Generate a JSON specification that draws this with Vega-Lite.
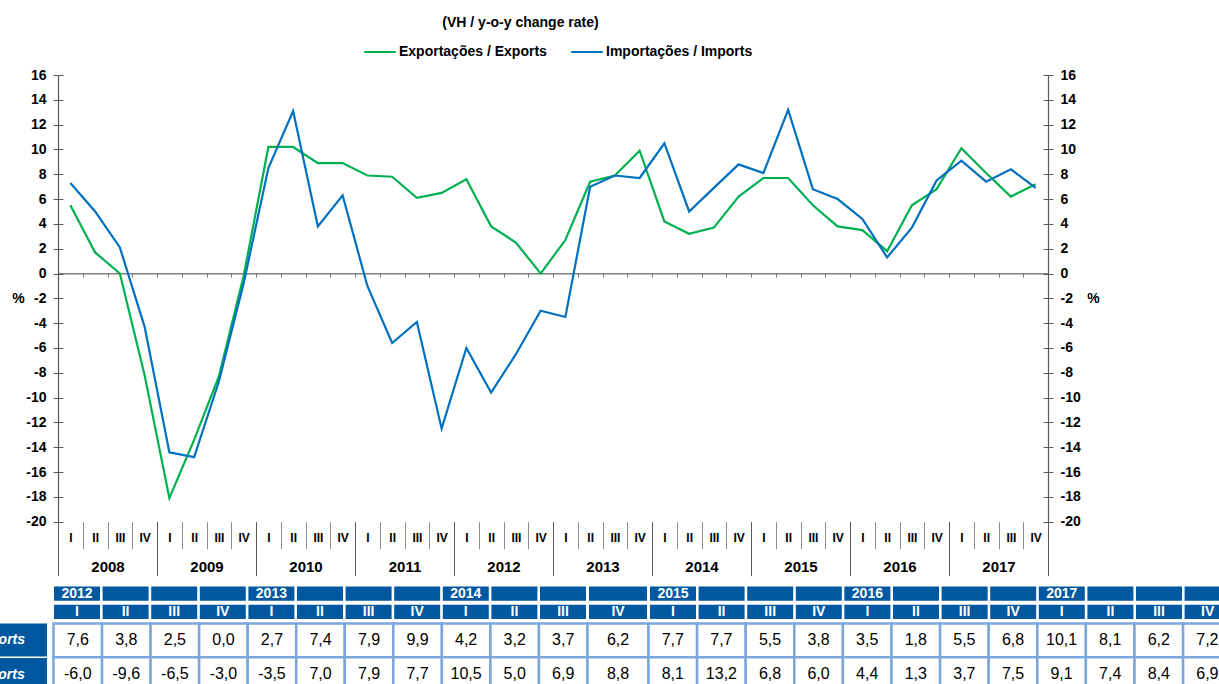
{
  "$schema": "https://vega.github.io/schema/vega-lite/v6.json",
  "width": 1219,
  "height": 684,
  "autosize": {"type": "none"},
  "padding": 0,
  "background": "white",
  "config": {
    "view": {"stroke": null},
    "font": "Liberation Sans",
    "locale": {"number": {"decimal": ",", "thousands": ".", "grouping": [3], "currency": ["", " €"], "minus": "-"}}
  },
  "title": {"text": "(VH / y-o-y change rate)", "orient": "top", "anchor": "middle", "frame": "group", "offset": -30, "dx": -89, "fontSize": 14, "fontWeight": "bold", "font": "Liberation Sans", "color": "black"},
  "data": {"values": [
    {"period": "2008-I", "year": 2008, "quarter": "I", "exp": 5.5, "imp": 7.3},
    {"period": "2008-II", "year": 2008, "quarter": "II", "exp": 1.7, "imp": 5.0},
    {"period": "2008-III", "year": 2008, "quarter": "III", "exp": 0.0, "imp": 2.1},
    {"period": "2008-IV", "year": 2008, "quarter": "IV", "exp": -8.2, "imp": -4.3},
    {"period": "2009-I", "year": 2009, "quarter": "I", "exp": -18.1, "imp": -14.4},
    {"period": "2009-II", "year": 2009, "quarter": "II", "exp": -13.4, "imp": -14.8},
    {"period": "2009-III", "year": 2009, "quarter": "III", "exp": -8.3, "imp": -8.7},
    {"period": "2009-IV", "year": 2009, "quarter": "IV", "exp": -0.2, "imp": -0.8},
    {"period": "2010-I", "year": 2010, "quarter": "I", "exp": 10.2, "imp": 8.5},
    {"period": "2010-II", "year": 2010, "quarter": "II", "exp": 10.2, "imp": 13.1},
    {"period": "2010-III", "year": 2010, "quarter": "III", "exp": 8.9, "imp": 3.8},
    {"period": "2010-IV", "year": 2010, "quarter": "IV", "exp": 8.9, "imp": 6.3},
    {"period": "2011-I", "year": 2011, "quarter": "I", "exp": 7.9, "imp": -1.0},
    {"period": "2011-II", "year": 2011, "quarter": "II", "exp": 7.8, "imp": -5.6},
    {"period": "2011-III", "year": 2011, "quarter": "III", "exp": 6.1, "imp": -3.9},
    {"period": "2011-IV", "year": 2011, "quarter": "IV", "exp": 6.5, "imp": -12.5},
    {"period": "2012-I", "year": 2012, "quarter": "I", "exp": 7.6, "imp": -6.0},
    {"period": "2012-II", "year": 2012, "quarter": "II", "exp": 3.8, "imp": -9.6},
    {"period": "2012-III", "year": 2012, "quarter": "III", "exp": 2.5, "imp": -6.5},
    {"period": "2012-IV", "year": 2012, "quarter": "IV", "exp": 0.0, "imp": -3.0},
    {"period": "2013-I", "year": 2013, "quarter": "I", "exp": 2.7, "imp": -3.5},
    {"period": "2013-II", "year": 2013, "quarter": "II", "exp": 7.4, "imp": 7.0},
    {"period": "2013-III", "year": 2013, "quarter": "III", "exp": 7.9, "imp": 7.9},
    {"period": "2013-IV", "year": 2013, "quarter": "IV", "exp": 9.9, "imp": 7.7},
    {"period": "2014-I", "year": 2014, "quarter": "I", "exp": 4.2, "imp": 10.5},
    {"period": "2014-II", "year": 2014, "quarter": "II", "exp": 3.2, "imp": 5.0},
    {"period": "2014-III", "year": 2014, "quarter": "III", "exp": 3.7, "imp": 6.9},
    {"period": "2014-IV", "year": 2014, "quarter": "IV", "exp": 6.2, "imp": 8.8},
    {"period": "2015-I", "year": 2015, "quarter": "I", "exp": 7.7, "imp": 8.1},
    {"period": "2015-II", "year": 2015, "quarter": "II", "exp": 7.7, "imp": 13.2},
    {"period": "2015-III", "year": 2015, "quarter": "III", "exp": 5.5, "imp": 6.8},
    {"period": "2015-IV", "year": 2015, "quarter": "IV", "exp": 3.8, "imp": 6.0},
    {"period": "2016-I", "year": 2016, "quarter": "I", "exp": 3.5, "imp": 4.4},
    {"period": "2016-II", "year": 2016, "quarter": "II", "exp": 1.8, "imp": 1.3},
    {"period": "2016-III", "year": 2016, "quarter": "III", "exp": 5.5, "imp": 3.7},
    {"period": "2016-IV", "year": 2016, "quarter": "IV", "exp": 6.8, "imp": 7.5},
    {"period": "2017-I", "year": 2017, "quarter": "I", "exp": 10.1, "imp": 9.1},
    {"period": "2017-II", "year": 2017, "quarter": "II", "exp": 8.1, "imp": 7.4},
    {"period": "2017-III", "year": 2017, "quarter": "III", "exp": 6.2, "imp": 8.4},
    {"period": "2017-IV", "year": 2017, "quarter": "IV", "exp": 7.2, "imp": 6.9}
  ]},
  "resolve": {"scale": {"x": "independent", "y": "independent", "color": "independent"}},
  "layer": [
    {
      "transform": [{"fold": ["exp", "imp"], "as": ["series", "value"]}],
      "resolve": {"axis": {"x": "independent", "y": "independent"}},
      "layer": [
        {
          "mark": {"type": "line", "opacity": 0},
          "encoding": {
            "x": {"field": "period", "type": "ordinal",
              "scale": {"type": "band", "range": [58, 1048], "paddingInner": 0, "paddingOuter": 0},
              "axis": {"orient": "bottom", "offset": -410.7, "title": null, "domain": true, "domainColor": "#7f7f7f", "domainWidth": 1.5, "tickBand": "extent", "tickSize": 4, "tickColor": "#7f7f7f", "tickWidth": 1, "labels": false, "grid": false}},
            "y": {"field": "value", "type": "quantitative",
              "axis": {"orient": "left", "offset": -58, "values": [-20, -18, -16, -14, -12, -10, -8, -6, -4, -2, 0, 2, 4, 6, 8, 10, 12, 14, 16], "domain": false, "labels": false, "tickSize": -5, "tickColor": "#595959", "grid": false, "title": null}},
            "detail": {"field": "series"}
          }
        },
        {
          "mark": {"type": "line", "opacity": 0},
          "encoding": {
            "x": {"field": "period", "type": "ordinal", "axis": null},
            "y": {"field": "value", "type": "quantitative",
              "axis": {"orient": "right", "offset": -171, "values": [-20, -18, -16, -14, -12, -10, -8, -6, -4, -2, 0, 2, 4, 6, 8, 10, 12, 14, 16], "domain": false, "labels": false, "tickSize": -5, "tickColor": "#595959", "grid": false, "title": null}},
            "detail": {"field": "series"}
          }
        },
        {
          "mark": {"type": "line", "strokeWidth": 2.2},
          "encoding": {
            "x": {"field": "period", "type": "ordinal",
              "axis": {"orient": "bottom", "offset": -162.3, "title": null, "domain": false, "grid": false, "tickBand": "extent", "tickSize": 27, "tickColor": "#8c8c8c", "tickWidth": 1, "labelExpr": "split(datum.value,'-')[1]", "labelAngle": 0, "labelBaseline": "middle", "labelPadding": -11, "labelFont": "Liberation Sans", "labelFontWeight": "bold", "labelFontSize": 12, "labelColor": "black", "labelOverlap": false, "labelFlush": false, "labelBound": false}},
            "y": {"field": "value", "type": "quantitative",
              "scale": {"domain": [-20, 16], "range": [521.7, 75], "nice": false, "zero": false},
              "axis": {"orient": "left", "offset": -58, "values": [-20, -18, -16, -14, -12, -10, -8, -6, -4, -2, 0, 2, 4, 6, 8, 10, 12, 14, 16], "domainColor": "#595959", "domainWidth": 1.2, "tickColor": "#595959", "tickSize": 5, "labelPadding": 7, "labelFont": "Liberation Sans", "labelFontWeight": "bold", "labelFontSize": 14, "labelColor": "black", "grid": false, "labelOverlap": false, "labelFlush": false, "title": "%", "titleAngle": 0, "titleX": -40, "titleY": 298, "titleAlign": "center", "titleBaseline": "middle", "titleFont": "Liberation Sans", "titleFontSize": 14, "titleFontWeight": "bold", "titleColor": "black"}},
            "color": {"field": "series", "type": "nominal",
              "scale": {"domain": ["exp", "imp"], "range": ["#00B050", "#0070C0"]},
              "legend": {"orient": "none", "legendX": 363, "legendY": 35, "direction": "horizontal", "title": null, "symbolType": "stroke", "symbolSize": 1000, "symbolStrokeWidth": 2, "labelFont": "Liberation Sans", "labelFontWeight": "bold", "labelFontSize": 14, "labelColor": "black", "labelOffset": 2, "columnPadding": 20, "labelExpr": "datum.value == 'exp' ? 'Exportações / Exports' : 'Importações / Imports'"}}
          }
        },
        {
          "mark": {"type": "line", "opacity": 0},
          "encoding": {
            "x": {"field": "period", "type": "ordinal",
              "axis": {"orient": "bottom", "offset": -162.3, "title": null, "domain": false, "grid": false, "tickBand": "extent", "tickSize": 54, "tickColor": "#595959", "tickWidth": 1,
                "tickOpacity": {"condition": {"test": "!isString(datum.value) || indexof(datum.value,'-IV') > 0", "value": 1}, "value": 0},
                "labelExpr": "split(datum.value,'-')[1] == 'II' ? split(datum.value,'-')[0] : ''", "labelOffset": 12.4, "labelAngle": 0, "labelBaseline": "middle", "labelPadding": -9.7, "labelFont": "Liberation Sans", "labelFontWeight": "bold", "labelFontSize": 15, "labelColor": "black", "labelOverlap": false, "labelFlush": false, "labelBound": false}},
            "y": {"field": "value", "type": "quantitative",
              "axis": {"orient": "right", "offset": -171, "values": [-20, -18, -16, -14, -12, -10, -8, -6, -4, -2, 0, 2, 4, 6, 8, 10, 12, 14, 16], "domainColor": "#595959", "domainWidth": 1.2, "tickColor": "#595959", "tickSize": 5, "labelPadding": 7, "labelFont": "Liberation Sans", "labelFontWeight": "bold", "labelFontSize": 14, "labelColor": "black", "grid": false, "labelOverlap": false, "labelFlush": false, "title": "%", "titleAngle": 0, "titleX": 45, "titleY": 298, "titleAlign": "center", "titleBaseline": "middle", "titleFont": "Liberation Sans", "titleFontSize": 14, "titleFontWeight": "bold", "titleColor": "black"}},
            "detail": {"field": "series"}
          }
        }
      ]
    },
    {
      "transform": [{"filter": "datum.year >= 2012 && (datum.year < 2014 || (datum.year == 2014 && datum.quarter != 'IV'))"}, {"fold": ["year", "quarter"], "as": ["hrow", "htext"]}],
      "encoding": {
        "x": {"field": "period", "type": "ordinal", "scale": {"type": "band", "range": [52.7, 587.3], "paddingInner": 0.0535, "paddingOuter": 0.0267}, "axis": null},
        "y": {"field": "hrow", "type": "nominal", "scale": {"type": "band", "domain": ["year", "quarter"], "range": [586.5, 619], "paddingInner": 0.22, "paddingOuter": 0}, "axis": null}
      },
      "layer": [
        {"mark": {"type": "rect", "fill": "#0058A0"}},
        {"mark": {"type": "text", "color": "white", "font": "Liberation Sans", "fontWeight": "bold", "fontSize": 14},
         "encoding": {"text": {"condition": {"test": "datum.hrow == 'year' && datum.quarter != 'I'", "value": ""}, "field": "htext", "type": "nominal"}}}
      ]
    },
    {
      "transform": [{"filter": "datum.period == '2014-IV'"}, {"fold": ["year", "quarter"], "as": ["hrow", "htext"]}],
      "encoding": {
        "x": {"field": "period", "type": "ordinal", "scale": {"type": "band", "range": [589, 647], "paddingInner": 0, "paddingOuter": 0}, "axis": null},
        "y": {"field": "hrow", "type": "nominal", "scale": {"type": "band", "domain": ["year", "quarter"], "range": [586.5, 619], "paddingInner": 0.22, "paddingOuter": 0}, "axis": null}
      },
      "layer": [
        {"mark": {"type": "rect", "fill": "#0058A0"}},
        {"mark": {"type": "text", "color": "white", "font": "Liberation Sans", "fontWeight": "bold", "fontSize": 14},
         "encoding": {"text": {"condition": {"test": "datum.hrow == 'year' && datum.quarter != 'I'", "value": ""}, "field": "htext", "type": "nominal"}}}
      ]
    },
    {
      "transform": [{"filter": "datum.year >= 2015"}, {"fold": ["year", "quarter"], "as": ["hrow", "htext"]}],
      "encoding": {
        "x": {"field": "period", "type": "ordinal", "scale": {"type": "band", "range": [648.7, 1231.9], "paddingInner": 0.0535, "paddingOuter": 0.0267}, "axis": null},
        "y": {"field": "hrow", "type": "nominal", "scale": {"type": "band", "domain": ["year", "quarter"], "range": [586.5, 619], "paddingInner": 0.22, "paddingOuter": 0}, "axis": null}
      },
      "layer": [
        {"mark": {"type": "rect", "fill": "#0058A0"}},
        {"mark": {"type": "text", "color": "white", "font": "Liberation Sans", "fontWeight": "bold", "fontSize": 14},
         "encoding": {"text": {"condition": {"test": "datum.hrow == 'year' && datum.quarter != 'I'", "value": ""}, "field": "htext", "type": "nominal"}}}
      ]
    },
    {
      "transform": [{"filter": "datum.year >= 2012 && (datum.year < 2014 || (datum.year == 2014 && datum.quarter != 'IV'))"}, {"fold": ["exp", "imp"], "as": ["series", "value"]}],
      "encoding": {
        "x": {"field": "period", "type": "ordinal", "scale": {"type": "band", "range": [53.5, 587.5], "paddingInner": 0, "paddingOuter": 0}, "axis": null},
        "y": {"field": "series", "type": "nominal", "scale": {"type": "band", "domain": ["exp", "imp"], "range": [623.5, 691], "paddingInner": 0, "paddingOuter": 0}, "axis": null}
      },
      "layer": [
        {"mark": {"type": "rect", "fill": "white", "stroke": "#7BA7DC", "strokeWidth": 2.5}},
        {"mark": {"type": "text", "color": "black", "font": "Liberation Sans", "fontSize": 16},
         "encoding": {"text": {"field": "value", "type": "quantitative", "format": ".1f"}}}
      ]
    },
    {
      "transform": [{"filter": "datum.period == '2014-IV'"}, {"fold": ["exp", "imp"], "as": ["series", "value"]}],
      "encoding": {
        "x": {"field": "period", "type": "ordinal", "scale": {"type": "band", "range": [587.5, 648.5], "paddingInner": 0, "paddingOuter": 0}, "axis": null},
        "y": {"field": "series", "type": "nominal", "scale": {"type": "band", "domain": ["exp", "imp"], "range": [623.5, 691], "paddingInner": 0, "paddingOuter": 0}, "axis": null}
      },
      "layer": [
        {"mark": {"type": "rect", "fill": "white", "stroke": "#7BA7DC", "strokeWidth": 2.5}},
        {"mark": {"type": "text", "color": "black", "font": "Liberation Sans", "fontSize": 16},
         "encoding": {"text": {"field": "value", "type": "quantitative", "format": ".1f"}}}
      ]
    },
    {
      "transform": [{"filter": "datum.year >= 2015"}, {"fold": ["exp", "imp"], "as": ["series", "value"]}],
      "encoding": {
        "x": {"field": "period", "type": "ordinal", "scale": {"type": "band", "range": [648.5, 1231.7], "paddingInner": 0, "paddingOuter": 0}, "axis": null},
        "y": {"field": "series", "type": "nominal", "scale": {"type": "band", "domain": ["exp", "imp"], "range": [623.5, 691], "paddingInner": 0, "paddingOuter": 0}, "axis": null}
      },
      "layer": [
        {"mark": {"type": "rect", "fill": "white", "stroke": "#7BA7DC", "strokeWidth": 2.5}},
        {"mark": {"type": "text", "color": "black", "font": "Liberation Sans", "fontSize": 16},
         "encoding": {"text": {"field": "value", "type": "quantitative", "format": ".1f"}}}
      ]
    },
    {
      "transform": [{"filter": "datum.period == '2012-I'"}, {"fold": ["exp", "imp"], "as": ["series", "value"]}],
      "encoding": {
        "x": {"datum": "lbl", "type": "nominal",
          "scale": {"type": "band", "domain": ["lbl"], "range": [-49, 47], "paddingInner": 0, "paddingOuter": 0}, "axis": null},
        "y": {"field": "series", "type": "nominal",
          "scale": {"type": "band", "domain": ["exp", "imp"], "range": [623.5, 691], "paddingInner": 0.05, "paddingOuter": 0}, "axis": null}
      },
      "layer": [
        {"mark": {"type": "rect", "fill": "#0058A0"}},
        {"mark": {"type": "text", "color": "white", "font": "Liberation Sans", "fontWeight": "bold", "fontStyle": "italic", "fontSize": 14},
         "encoding": {"text": {"condition": {"test": "datum.series == 'exp'", "value": "Exports"}, "value": "Imports"}}}
      ]
    }
  ]
}
